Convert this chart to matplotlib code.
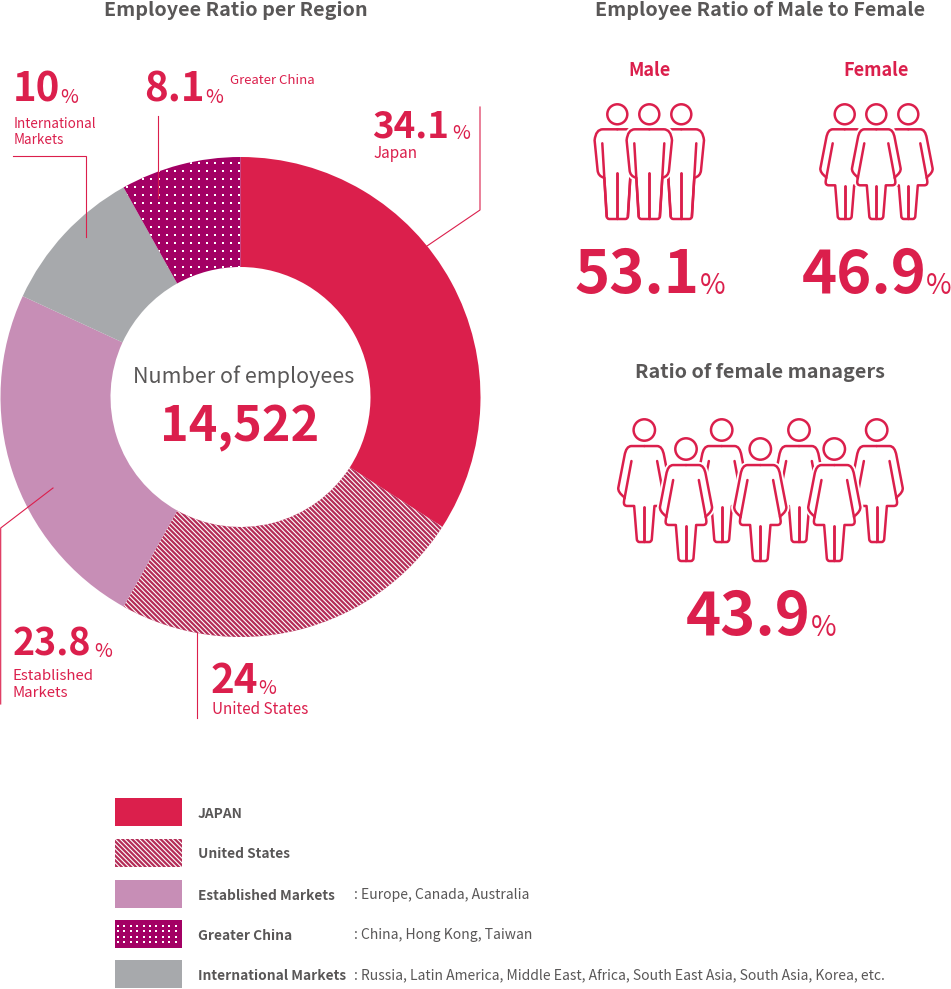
import numpy as np
import matplotlib
matplotlib.use('Agg')
import matplotlib.pyplot as plt
from matplotlib.path import Path
from matplotlib.patches import PathPatch, Circle, Rectangle

RED='#DB1F4C'
GREY='#595757'
PLUM='#A30064'
STRIPE='#B42C57'
LAVENDER='#C78EB6'
SILVER='#A7A9AC'

regions=['Japan','United States','Established Markets','International Markets','Greater China']
shares=[34.1,24,23.8,10,8.1]
share_labels=['34.1','24','23.8','10','8.1']
total_employees='14,522'
male_ratio='53.1'
female_ratio='46.9'
manager_ratio='43.9'

legend_names=['JAPAN','United States','Established Markets','Greater China','International Markets']
legend_notes=['','',': Europe, Canada, Australia',': China, Hong Kong, Taiwan',
              ': Russia, Latin America, Middle East, Africa, South East Asia, South Asia, Korea, etc.']

plt.rcParams['font.family']=['Noto Sans CJK JP','DejaVu Sans']
plt.rcParams['hatch.linewidth']=0.8

STRIPES='\\'*7

fig=plt.figure(figsize=(9.51,9.89),dpi=100)
ax=fig.add_axes([0,0,1,1])
ax.set_xlim(0,951)
ax.set_ylim(989,0)
ax.set_aspect('equal')
ax.axis('off')


def dots(x0,x1,y0,y1,dx,dy,clip=None):
    xs,ys=np.meshgrid(np.arange(x0,x1,dx),np.arange(y0,y1,dy))
    sc=ax.scatter(xs.ravel(),ys.ravel(),s=0.7,marker='s',color='white',linewidths=0,zorder=3)
    if clip is not None:
        sc.set_clip_path(clip)


def label(x,y,s,size,color=RED,weight='normal',ha='left'):
    ax.text(x,y,s,fontsize=size,color=color,fontweight=weight,ha=ha,va='baseline')


def leader(xs,ys):
    ax.plot(xs,ys,color=RED,lw=0.8,zorder=4,solid_joinstyle='miter')


def half_male():
    verts=[(0,15),(14.5,15),(21.5,15),(22.7,26),(19.7,56),(19.2,62),(13,63.5),(10.7,102),(10.5,104.7),(8,104.7),(0,104.7)]
    codes=[Path.MOVETO,Path.LINETO,Path.CURVE3,Path.CURVE3,Path.LINETO,Path.CURVE3,Path.CURVE3,Path.LINETO,Path.CURVE3,Path.CURVE3,Path.LINETO]
    return np.array(verts,dtype=float),codes


def half_female():
    verts=[(0,15),(12,15),(17,15),(18.5,24),(24.3,54),(25,58),(18.5,63),(19,67),(19.5,71),(16,71),(9.5,71),(7,102),(6.8,104.7),(4.5,104.7),(0,104.7)]
    codes=[Path.MOVETO,Path.LINETO,Path.CURVE3,Path.CURVE3,Path.LINETO,Path.CURVE3,Path.CURVE3,Path.LINETO,Path.CURVE3,Path.CURVE3,Path.LINETO,Path.LINETO,Path.CURVE3,Path.CURVE3,Path.LINETO]
    return np.array(verts,dtype=float),codes


def person(cx,cy,kind,zorder,scale=1.0):
    if kind=='male':
        verts,codes=half_male()
        inner=[[(15,29),(13,63),(10.5,102)],[(0,59),(0,104)]]
    else:
        verts,codes=half_female()
        inner=[[(12,29),(18.5,64)],[(0,72),(0,104)]]
    for sign in (1,-1):
        v=verts*[sign*scale,scale]+[cx,cy]
        p=Path(v,codes)
        ax.add_patch(PathPatch(p,fc='white',ec='white',lw=4.5,zorder=zorder))
    for sign in (1,-1):
        v=verts*[sign*scale,scale]+[cx,cy]
        p=Path(v,codes)
        ax.add_patch(PathPatch(p,fc='none',ec=RED,lw=1.8,zorder=zorder,capstyle='round',joinstyle='round'))
        for seg in inner:
            s=np.array(seg,dtype=float)*[sign*scale,scale]+[cx,cy]
            ax.plot(s[:,0],s[:,1],color=RED,lw=1.8,zorder=zorder,solid_capstyle='round')
    ax.add_patch(Circle((cx,cy),10*scale,fc='white',ec=RED,lw=1.8,zorder=zorder))


# donut
colors=[RED,STRIPE,LAVENDER,SILVER,PLUM]
wedges,_=ax.pie(shares,colors=colors,startangle=-90,counterclock=True,center=(240.5,397),
                radius=240,frame=True,wedgeprops=dict(width=110,linewidth=0))
wedges[1].set_edgecolor('white')
wedges[1].set_hatch(STRIPES)
wedges[1].set_linewidth(0)
dots(102.7,240,163.3,300,8,8,clip=wedges[4])
ax.set_xlim(0,951)
ax.set_ylim(989,0)
ax.axis('off')

leader([427,480,480],[246,210,107])
leader([13,86,86],[156,156,237])
leader([158,158],[116,198])
leader([197,197],[718,633])
leader([53,0.7,0.7],[488,528,704])

# share callouts
label(372,137.5,share_labels[0],26.5,weight='bold')
label(452.5,139,'%',14)
label(373,158,regions[0],11)
label(211,693,share_labels[1],29,weight='bold')
label(258,694,'%',14)
label(212,714,regions[1],11)
label(12.5,656,share_labels[2],27,weight='bold')
label(94.5,657,'%',14)
label(12.5,680,'Established',10.8)
label(12.5,697,'Markets',10.8)
label(13,101.5,share_labels[3],29,weight='bold')
label(60,103,'%',14)
label(14,128,'International',9.7)
label(14,144,'Markets',9.7)
label(144,101.5,share_labels[4],29,weight='bold')
label(205,103,'%',14)
label(230,84,regions[4],9.5)

label(244,383,'Number of employees',15.5,color=GREY,ha='center')
label(240,441,total_employees,35,weight='bold',ha='center')

# titles
label(236,16,'Employee Ratio per Region',14.25,color=GREY,weight='bold',ha='center')
label(760,16,'Employee Ratio of Male to Female',14.25,color=GREY,weight='bold',ha='center')
label(650,75.5,'Male',13,weight='bold',ha='center')
label(876,75.5,'Female',13,weight='bold',ha='center')
label(760,378.5,'Ratio of female managers',14.25,color=GREY,weight='bold',ha='center')

# people
person(617.3,114.3,'male',5)
person(681.3,114.3,'male',5)
person(649.3,114.3,'male',6)
person(844.7,114.3,'female',5)
person(908.3,114.3,'female',5)
person(876.3,114.3,'female',6)
for x in [644.3,721.7,799,876.7]:
    person(x,430,'female',5,scale=1.07)
for x in [686,760.3,834.3]:
    person(x,449,'female',6,scale=1.07)

label(575,293,male_ratio,43,weight='bold')
label(699.5,294,'%',20)
label(801.5,293,female_ratio,43,weight='bold')
label(925.5,294,'%',20)
label(685.5,635,manager_ratio,43,weight='bold')
label(810.5,636,'%',20)

# legend
swatch_tops=[798,839,880,920,960]
swatch_colors=[RED,STRIPE,LAVENDER,PLUM,SILVER]
for top,col,name,note in zip(swatch_tops,swatch_colors,legend_names,legend_notes):
    r=Rectangle((115,top),67,28,fc=col,ec='white',lw=0,zorder=2)
    ax.add_patch(r)
    if name=='United States':
        r.set_edgecolor('white')
        r.set_hatch(STRIPES)
    if name=='Greater China':
        dots(118,182,top+6,top+27,6.4,5.4,clip=r)
    label(198,top+19.5,name,9.9,color=GREY,weight='bold')
    if note:
        label(354,top+19.5,note,10.05,color=GREY)

fig.savefig('out.png',dpi=100)
